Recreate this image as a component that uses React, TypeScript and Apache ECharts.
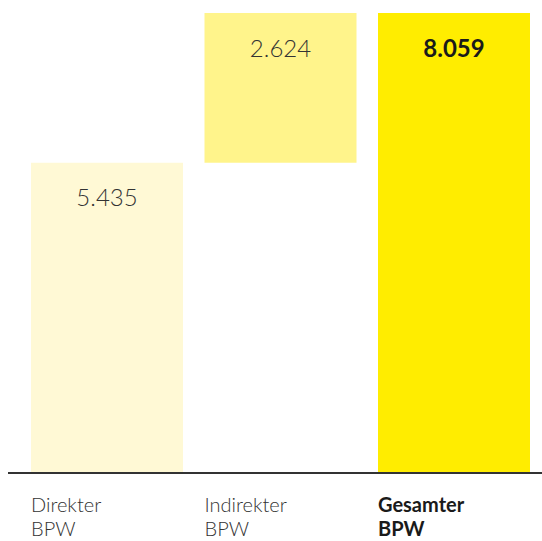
import React, { useEffect, useRef } from "react";
import * as echarts from "echarts";

const categories = ["Direkter\nBPW", "Indirekter\nBPW", "Gesamter\nBPW"];
const baseValues = [0, 5.435, 0];
const values = [5.435, 2.624, 8.059];
const colors = ["#FFF9D5", "#FFF48B", "#FFED00"];
const boldIdx = [false, false, true];

const FONT = "Lato";

export default function App() {
  const ref = useRef<HTMLDivElement>(null);
  useEffect(() => {
    if (!ref.current) return;
    const chart = echarts.init(ref.current, null, { renderer: "svg" });
    const fmt = (v: number) => v.toFixed(3);
    chart.setOption({
      animation: false,
      grid: { left: 20.25, right: 1.25, top: 13, bottom: 68 },
      xAxis: {
        type: "category",
        data: categories,
        axisLine: { show: false },
        axisTick: { show: false },
        axisLabel: {
          margin: 19,
          width: 152,
          align: "center",
          verticalAlign: "top",
          formatter: (v: string, i: number) => {
            const key = boldIdx[i] ? "b" : "n";
            return v
              .split("\n")
              .map((s) => `{${key}|${s}}`)
              .join("\n");
          },
          rich: {
            n: {
              fontFamily: FONT,
              fontWeight: 300,
              fontSize: 20,
              lineHeight: 24,
              color: "#333333",
              align: "left",
              width: 152,
            },
            b: {
              fontFamily: FONT,
              fontWeight: 700,
              fontSize: 20,
              lineHeight: 24,
              color: "#1a1a1a",
              align: "left",
              width: 152,
            },
          },
        },
      },
      yAxis: {
        type: "value",
        min: 0,
        max: 8.059,
        show: false,
        splitLine: { show: false },
      },
      graphic: [
        {
          type: "line",
          shape: { x1: 8, y1: 473, x2: 542, y2: 473 },
          style: { stroke: "#333333", lineWidth: 2 },
          z: 10,
        },
      ],
      series: [
        {
          type: "bar",
          stack: "wf",
          data: baseValues,
          barWidth: 152,
          itemStyle: { color: "transparent" },
          silent: true,
        },
        {
          type: "bar",
          stack: "wf",
          barWidth: 152,
          data: values.map((v, i) => ({
            value: v,
            itemStyle: { color: colors[i] },
            label: {
              fontWeight: boldIdx[i] ? 700 : 300,
              color: boldIdx[i] ? "#1a1a1a" : "#333333",
            },
          })),
          label: {
            show: true,
            position: "insideTop",
            distance: 22,
            fontFamily: FONT,
            fontSize: 24,
            formatter: (p: any) => fmt(p.value),
          },
        },
      ],
    });
    return () => chart.dispose();
  }, []);
  return <div ref={ref} style={{ width: 542, height: 541, position: "absolute", left: 0, top: 0 }} />;
}
